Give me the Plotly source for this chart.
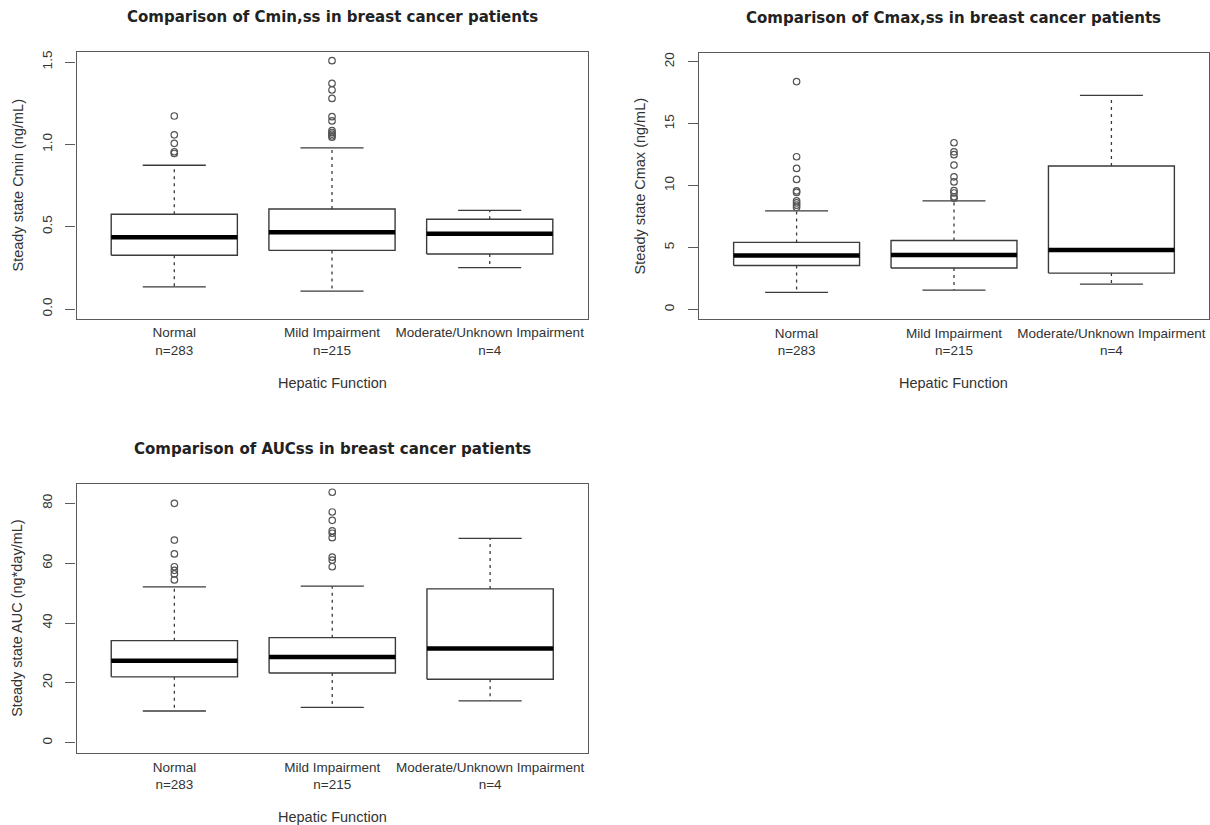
import plotly.graph_objects as go

# ---------------- data ----------------
categories = ["Normal", "Mild Impairment", "Moderate/Unknown Impairment"]
counts = [283, 215, 4]

# Cmin,ss (ng/mL)
cmin_low = [0.134, 0.109, 0.251]
cmin_q1 = [0.326, 0.356, 0.334]
cmin_med = [0.435, 0.466, 0.457]
cmin_q3 = [0.575, 0.607, 0.545]
cmin_high = [0.873, 0.979, 0.599]
cmin_out = [
    [1.172, 1.058, 1.006, 0.955, 0.945],
    [1.508, 1.370, 1.330, 1.279, 1.168, 1.142, 1.083, 1.072, 1.062, 1.052, 1.043],
    [],
]

# Cmax,ss (ng/mL)
cmax_low = [1.37, 1.56, 2.04]
cmax_q1 = [3.55, 3.34, 2.93]
cmax_med = [4.36, 4.39, 4.79]
cmax_q3 = [5.41, 5.57, 11.58]
cmax_high = [7.96, 8.77, 17.28]
cmax_out = [
    [18.4, 12.33, 11.39, 10.50, 9.58, 9.45, 8.77, 8.6, 8.42, 8.25],
    [13.46, 12.73, 12.5, 11.66, 10.71, 10.3, 9.6, 9.4, 9.1, 8.97],
    [],
]

# AUCss (ng*day/mL)
auc_low = [10.6, 11.8, 14.0]
auc_q1 = [22.0, 23.3, 21.2]
auc_med = [27.4, 28.6, 31.5]
auc_q3 = [34.1, 35.1, 51.4]
auc_high = [52.1, 52.3, 68.3]
auc_out = [
    [80.0, 67.7, 63.1, 58.8, 57.6, 56.4, 54.4],
    [83.7, 77.1, 74.3, 70.8, 70.0, 68.5, 62.0, 61.0, 58.8],
    [],
]

titles = [
    "Comparison of Cmin,ss in breast cancer patients",
    "Comparison of Cmax,ss in breast cancer patients",
    "Comparison of AUCss in breast cancer patients",
]
y_titles = [
    "Steady state Cmin (ng/mL)",
    "Steady state Cmax (ng/mL)",
    "Steady state AUC (ng*day/mL)",
]
x_title = "Hepatic Function"
y_tickvals = [[0.0, 0.5, 1.0, 1.5], [0, 5, 10, 15, 20], [0, 20, 40, 60, 80]]
y_ticktext = [["0.0", "0.5", "1.0", "1.5"], ["0", "5", "10", "15", "20"], ["0", "20", "40", "60", "80"]]
y_ranges = [[-0.0607, 1.5607], [-0.8, 20.75], [-3.54, 86.35]]

stats = [
    (cmin_low, cmin_q1, cmin_med, cmin_q3, cmin_high, cmin_out),
    (cmax_low, cmax_q1, cmax_med, cmax_q3, cmax_high, cmax_out),
    (auc_low, auc_q1, auc_med, auc_q3, auc_high, auc_out),
]

# ---------------- layout geometry (pixels) ----------------
W, H = 1210, 825
# (left, right, top, bottom) of each plot box
boxes = [(76.5, 587.5, 52, 319), (699, 1209, 52.5, 319.3), (76.5, 588, 484.3, 753.3)]

FONT = "Liberation Sans, Arial, sans-serif"
TITLE_FONT = "DejaVu Sans, Liberation Sans, sans-serif"
LINE = "#3a3a3a"
FRAME = "#5a5a5a"

fig = go.Figure()
x_labels = [f"{c}<br>n={n}" for c, n in zip(categories, counts)]
half_box = 0.4
half_cap = 0.2

for p, (low, q1, med, q3, high, outs) in enumerate(stats):
    xa = "x" if p == 0 else f"x{p + 1}"
    ya = "y" if p == 0 else f"y{p + 1}"
    for i in range(len(categories)):
        xc = i + 1
        # whiskers (dashed)
        for a, b in ((q3[i], high[i]), (q1[i], low[i])):
            fig.add_trace(go.Scatter(x=[xc, xc], y=[a, b], mode="lines", xaxis=xa, yaxis=ya,
                                     line=dict(color=LINE, width=1.3, dash="3px,4px"),
                                     showlegend=False, hoverinfo="skip"))
        # caps
        for v in (high[i], low[i]):
            fig.add_trace(go.Scatter(x=[xc - half_cap, xc + half_cap], y=[v, v], mode="lines",
                                     xaxis=xa, yaxis=ya, line=dict(color=LINE, width=1.3),
                                     showlegend=False, hoverinfo="skip"))
        # box
        fig.add_trace(go.Scatter(
            x=[xc - half_box, xc + half_box, xc + half_box, xc - half_box, xc - half_box],
            y=[q1[i], q1[i], q3[i], q3[i], q1[i]], mode="lines", xaxis=xa, yaxis=ya,
            line=dict(color=LINE, width=1.4), fill="toself", fillcolor="white",
            showlegend=False, hoverinfo="skip"))
        # median
        fig.add_trace(go.Scatter(x=[xc - half_box, xc + half_box], y=[med[i], med[i]], mode="lines",
                                 xaxis=xa, yaxis=ya, line=dict(color="black", width=4.5),
                                 showlegend=False, hoverinfo="skip"))
        # outliers
        if outs[i]:
            fig.add_trace(go.Scatter(x=[xc] * len(outs[i]), y=outs[i], mode="markers",
                                     xaxis=xa, yaxis=ya,
                                     marker=dict(symbol="circle-open", size=6.5,
                                                 color="#555555", line=dict(width=1.2)),
                                     showlegend=False, hoverinfo="skip"))

layout_axes = {}
annotations = []
for p, (l, r, t, b) in enumerate(boxes):
    xk = "xaxis" if p == 0 else f"xaxis{p + 1}"
    yk = "yaxis" if p == 0 else f"yaxis{p + 1}"
    ya = "y" if p == 0 else f"y{p + 1}"
    xa = "x" if p == 0 else f"x{p + 1}"
    layout_axes[xk] = dict(
        domain=[l / W, r / W], range=[0.38, 3.62], anchor=ya,
        tickvals=[1, 2, 3], ticktext=x_labels, ticks="",
        showline=True, mirror=True, linecolor=FRAME, linewidth=1.3,
        showgrid=False, zeroline=False, fixedrange=True,
        tickfont=dict(family=FONT, size=13.5, color="#333333"),
        ticklabelstandoff=1,
    )
    layout_axes[yk] = dict(
        domain=[1 - b / H, 1 - t / H], range=y_ranges[p], anchor=xa,
        tickvals=y_tickvals[p], ticktext=y_ticktext[p], tickangle=-90,
        ticks="outside", ticklen=10, tickcolor=FRAME, tickwidth=1.2,
        showline=True, mirror=True, linecolor=FRAME, linewidth=1.3,
        showgrid=False, zeroline=False, fixedrange=True,
        tickfont=dict(family=FONT, size=13.5, color="#333333"),
        ticklabelstandoff=8,
    )
    cx = (l + r) / 2
    # title
    annotations.append(dict(text=f"<b>{titles[p]}</b>", x=cx / W, y=1 - (t - 35) / H,
                            xref="paper", yref="paper", xanchor="center", yanchor="middle",
                            showarrow=False, font=dict(family=TITLE_FONT, size=15, color="#222222")))
    # x title
    annotations.append(dict(text=x_title, x=cx / W, y=1 - (b + 63.5) / H,
                            xref="paper", yref="paper", xanchor="center", yanchor="middle",
                            showarrow=False, font=dict(family=FONT, size=14.5, color="#333333")))
    # y title
    annotations.append(dict(text=y_titles[p], x=(l - 59.5) / W, y=1 - ((t + b) / 2) / H,
                            xref="paper", yref="paper", xanchor="center", yanchor="middle",
                            textangle=-90, showarrow=False,
                            font=dict(family=FONT, size=14.5, color="#333333")))

fig.update_layout(
    width=W, height=H, margin=dict(l=0, r=0, t=0, b=0),
    paper_bgcolor="white", plot_bgcolor="white",
    showlegend=False, annotations=annotations, **layout_axes,
)

fig.write_html("out.html")
